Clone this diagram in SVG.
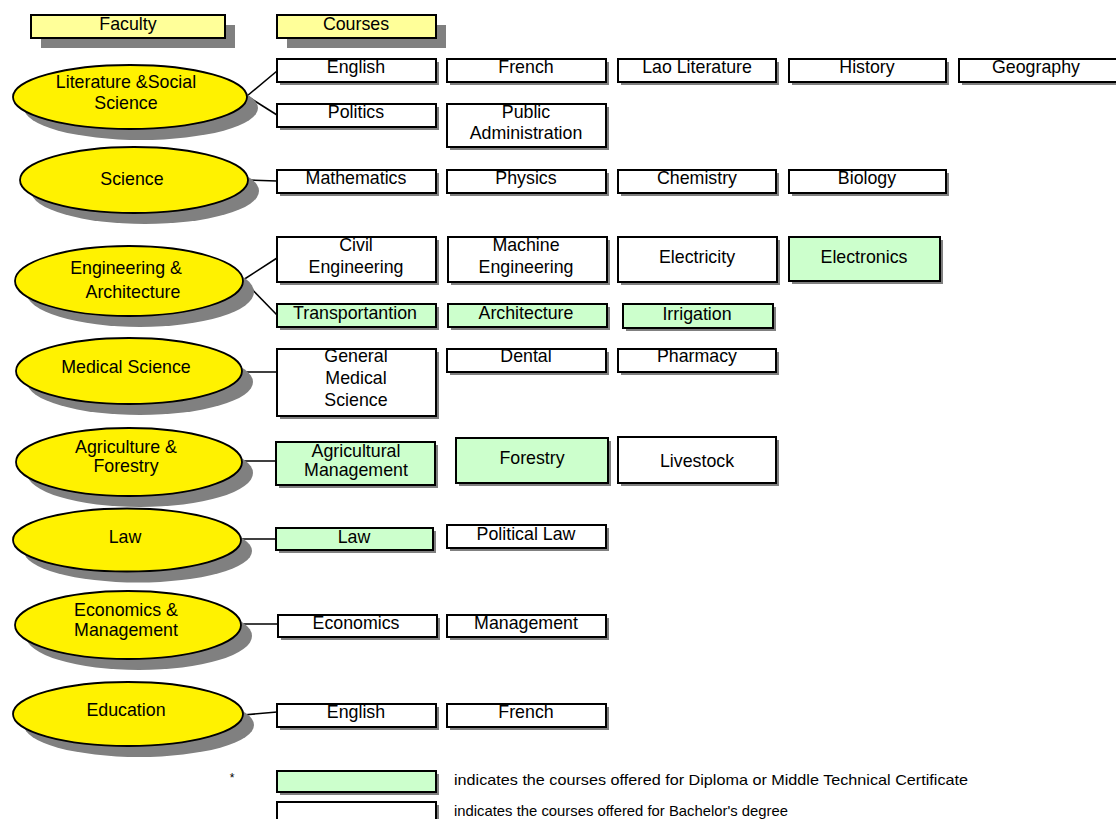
<svg xmlns="http://www.w3.org/2000/svg" width="1116" height="819" viewBox="0 0 1116 819">
<style>
text{font-family:"Liberation Sans",Arial,sans-serif;font-size:17.8px;fill:#000;text-anchor:middle}
.fac{fill:#FFF200;stroke:#000;stroke-width:1.8}
.esh{fill:#808080}
.hdr{fill:#FFFF99;stroke:#000;stroke-width:2}
.hsh{fill:#808080}
.bx{fill:#fff;stroke:#000;stroke-width:2}
.gr{fill:#CCFFCC;stroke:#000;stroke-width:2}
.bsh{fill:#808080}
.ln{stroke:#000;stroke-width:1.6;fill:none}
.leg{font-size:15px;text-anchor:start}
</style>
<rect width="1116" height="819" fill="#fff"/>

<g id="hdr-faculty">
<rect class="hsh" x="41" y="25" width="194" height="23"/>
<rect class="hdr" x="31" y="15" width="194" height="23"/>
<text x="128" y="30">Faculty</text>
</g>
<g id="hdr-courses">
<rect class="hsh" x="287" y="25" width="159" height="23"/>
<rect class="hdr" x="277" y="15" width="159" height="23"/>
<text x="356" y="30">Courses</text>
</g>

<g id="connectors">
<line class="ln" x1="247" y1="96" x2="277" y2="71"/>
<line class="ln" x1="247" y1="96" x2="277" y2="115"/>
<line class="ln" x1="247" y1="180" x2="277" y2="181"/>
<line class="ln" x1="243" y1="280" x2="277" y2="258"/>
<line class="ln" x1="243" y1="280" x2="277" y2="315"/>
<line class="ln" x1="242" y1="372" x2="277" y2="372"/>
<line class="ln" x1="242" y1="461" x2="276" y2="461"/>
<line class="ln" x1="241" y1="539" x2="276" y2="539"/>
<line class="ln" x1="240" y1="624" x2="278" y2="624"/>
<line class="ln" x1="243" y1="715" x2="277" y2="712"/>
</g>

<g id="fac-lit">
<ellipse class="esh" cx="141" cy="108" rx="117" ry="32"/>
<ellipse class="fac" cx="130" cy="97" rx="117" ry="32"/>
<text x="126" y="88">Literature &amp;Social</text>
<text x="126" y="109">Science</text>
</g>
<g id="fac-sci">
<ellipse class="esh" cx="145" cy="191" rx="114" ry="33"/>
<ellipse class="fac" cx="134" cy="180" rx="114" ry="33"/>
<text x="132" y="185">Science</text>
</g>
<g id="fac-eng">
<ellipse class="esh" cx="140" cy="292" rx="114" ry="35"/>
<ellipse class="fac" cx="129" cy="281" rx="114" ry="35"/>
<text x="126" y="274">Engineering &amp;</text>
<text x="133" y="298">Architecture</text>
</g>
<g id="fac-med">
<ellipse class="esh" cx="140" cy="382" rx="113" ry="33"/>
<ellipse class="fac" cx="129" cy="371" rx="113" ry="33"/>
<text x="126" y="373">Medical Science</text>
</g>
<g id="fac-agr">
<ellipse class="esh" cx="140" cy="473" rx="113" ry="34"/>
<ellipse class="fac" cx="129" cy="462" rx="113" ry="34"/>
<text x="126" y="453">Agriculture &amp;</text>
<text x="126" y="472">Forestry</text>
</g>
<g id="fac-law">
<ellipse class="esh" cx="138" cy="551" rx="114" ry="31.5"/>
<ellipse class="fac" cx="127" cy="540" rx="114" ry="31.5"/>
<text x="125" y="543">Law</text>
</g>
<g id="fac-eco">
<ellipse class="esh" cx="139" cy="636" rx="113" ry="34"/>
<ellipse class="fac" cx="128" cy="625" rx="113" ry="34"/>
<text x="126" y="616">Economics &amp;</text>
<text x="126" y="636">Management</text>
</g>
<g id="fac-edu">
<ellipse class="esh" cx="139" cy="725" rx="115" ry="32"/>
<ellipse class="fac" cx="128" cy="714" rx="115" ry="32"/>
<text x="126" y="716">Education</text>
</g>

<!-- Literature & Social Science courses -->
<g id="c-english1"><rect class="bsh" x="280" y="62" width="159" height="23"/><rect class="bx" x="277" y="59" width="159" height="23"/><text x="356" y="73">English</text></g>
<g id="c-french1"><rect class="bsh" x="450" y="62" width="159" height="23"/><rect class="bx" x="447" y="59" width="159" height="23"/><text x="526" y="73">French</text></g>
<g id="c-laolit"><rect class="bsh" x="621" y="62" width="158" height="23"/><rect class="bx" x="618" y="59" width="158" height="23"/><text x="697" y="73">Lao Literature</text></g>
<g id="c-history"><rect class="bsh" x="792" y="62" width="157" height="23"/><rect class="bx" x="789" y="59" width="157" height="23"/><text x="867" y="73">History</text></g>
<g id="c-geography"><rect class="bsh" x="962" y="62" width="158" height="23"/><rect class="bx" x="959" y="59" width="158" height="23"/><text x="1036" y="73">Geography</text></g>
<g id="c-politics"><rect class="bsh" x="280" y="107" width="159" height="23"/><rect class="bx" x="277" y="104" width="159" height="23"/><text x="356" y="118">Politics</text></g>
<g id="c-pubadmin"><rect class="bsh" x="450" y="107" width="159" height="43"/><rect class="bx" x="447" y="104" width="159" height="43"/><text x="526" y="118">Public</text><text x="526" y="139">Administration</text></g>

<!-- Science -->
<g id="c-math"><rect class="bsh" x="280" y="173" width="159" height="23"/><rect class="bx" x="277" y="170" width="159" height="23"/><text x="356" y="184">Mathematics</text></g>
<g id="c-physics"><rect class="bsh" x="450" y="173" width="159" height="23"/><rect class="bx" x="447" y="170" width="159" height="23"/><text x="526" y="184">Physics</text></g>
<g id="c-chem"><rect class="bsh" x="621" y="173" width="158" height="23"/><rect class="bx" x="618" y="170" width="158" height="23"/><text x="697" y="184">Chemistry</text></g>
<g id="c-bio"><rect class="bsh" x="792" y="173" width="157" height="23"/><rect class="bx" x="789" y="170" width="157" height="23"/><text x="867" y="184">Biology</text></g>

<!-- Engineering -->
<g id="c-civil"><rect class="bsh" x="280" y="240" width="159" height="45"/><rect class="bx" x="277" y="237" width="159" height="45"/><text x="356" y="251">Civil</text><text x="356" y="273">Engineering</text></g>
<g id="c-machine"><rect class="bsh" x="451" y="240" width="159" height="45"/><rect class="bx" x="448" y="237" width="159" height="45"/><text x="526" y="251">Machine</text><text x="526" y="273">Engineering</text></g>
<g id="c-elec"><rect class="bsh" x="621" y="240" width="159" height="45"/><rect class="bx" x="618" y="237" width="159" height="45"/><text x="697" y="263">Electricity</text></g>
<g id="c-electronics"><rect class="bsh" x="792" y="240" width="151" height="44"/><rect class="gr" x="789" y="237" width="151" height="44"/><text x="864" y="263">Electronics</text></g>
<g id="c-transport"><rect class="bsh" x="280" y="307" width="159" height="23"/><rect class="gr" x="277" y="304" width="159" height="23"/><text x="355" y="319">Transportantion</text></g>
<g id="c-arch"><rect class="bsh" x="451" y="307" width="159" height="23"/><rect class="gr" x="448" y="304" width="159" height="23"/><text x="526" y="319">Architecture</text></g>
<g id="c-irrig"><rect class="bsh" x="626" y="307" width="150" height="24"/><rect class="gr" x="623" y="304" width="150" height="24"/><text x="697" y="320">Irrigation</text></g>

<!-- Medical -->
<g id="c-genmed"><rect class="bsh" x="280" y="352" width="159" height="67"/><rect class="bx" x="277" y="349" width="159" height="67"/><text x="356" y="362">General</text><text x="356" y="384">Medical</text><text x="356" y="406">Science</text></g>
<g id="c-dental"><rect class="bsh" x="450" y="352" width="159" height="23"/><rect class="bx" x="447" y="349" width="159" height="23"/><text x="526" y="362">Dental</text></g>
<g id="c-pharm"><rect class="bsh" x="621" y="352" width="158" height="23"/><rect class="bx" x="618" y="349" width="158" height="23"/><text x="697" y="362">Pharmacy</text></g>

<!-- Agriculture -->
<g id="c-agrman"><rect class="bsh" x="279" y="445" width="159" height="43"/><rect class="gr" x="276" y="442" width="159" height="43"/><text x="356" y="457">Agricultural</text><text x="356" y="476">Management</text></g>
<g id="c-forestry"><rect class="bsh" x="459" y="441" width="152" height="45"/><rect class="gr" x="456" y="438" width="152" height="45"/><text x="532" y="464">Forestry</text></g>
<g id="c-livestock"><rect class="bsh" x="621" y="440" width="158" height="46"/><rect class="bx" x="618" y="437" width="158" height="46"/><text x="697" y="467">Livestock</text></g>

<!-- Law -->
<g id="c-law"><rect class="bsh" x="279" y="531" width="157" height="22"/><rect class="gr" x="276" y="528" width="157" height="22"/><text x="354" y="543">Law</text></g>
<g id="c-pollaw"><rect class="bsh" x="450" y="528" width="159" height="23"/><rect class="bx" x="447" y="525" width="159" height="23"/><text x="526" y="540">Political Law</text></g>

<!-- Economics -->
<g id="c-econ"><rect class="bsh" x="281" y="618" width="159" height="22"/><rect class="bx" x="278" y="615" width="159" height="22"/><text x="356" y="629">Economics</text></g>
<g id="c-manage"><rect class="bsh" x="450" y="618" width="159" height="22"/><rect class="bx" x="447" y="615" width="159" height="22"/><text x="526" y="629">Management</text></g>

<!-- Education -->
<g id="c-english2"><rect class="bsh" x="280" y="707" width="159" height="23"/><rect class="bx" x="277" y="704" width="159" height="23"/><text x="356" y="718">English</text></g>
<g id="c-french2"><rect class="bsh" x="450" y="707" width="159" height="23"/><rect class="bx" x="447" y="704" width="159" height="23"/><text x="526" y="718">French</text></g>

<!-- Legend -->
<g id="legend">
<text x="232" y="782" style="font-size:12px">*</text>
<rect class="bsh" x="280" y="774" width="159" height="21"/>
<rect class="gr" x="277" y="771" width="159" height="21"/>
<text class="leg" x="454" y="785" textLength="514" lengthAdjust="spacingAndGlyphs">indicates the courses offered for Diploma or Middle Technical Certificate</text>
<rect class="bsh" x="280" y="805" width="159" height="23"/>
<rect class="bx" x="277" y="802" width="159" height="23"/>
<text class="leg" x="454" y="816" textLength="334" lengthAdjust="spacingAndGlyphs">indicates the courses offered for Bachelor's degree</text>
</g>
</svg>
